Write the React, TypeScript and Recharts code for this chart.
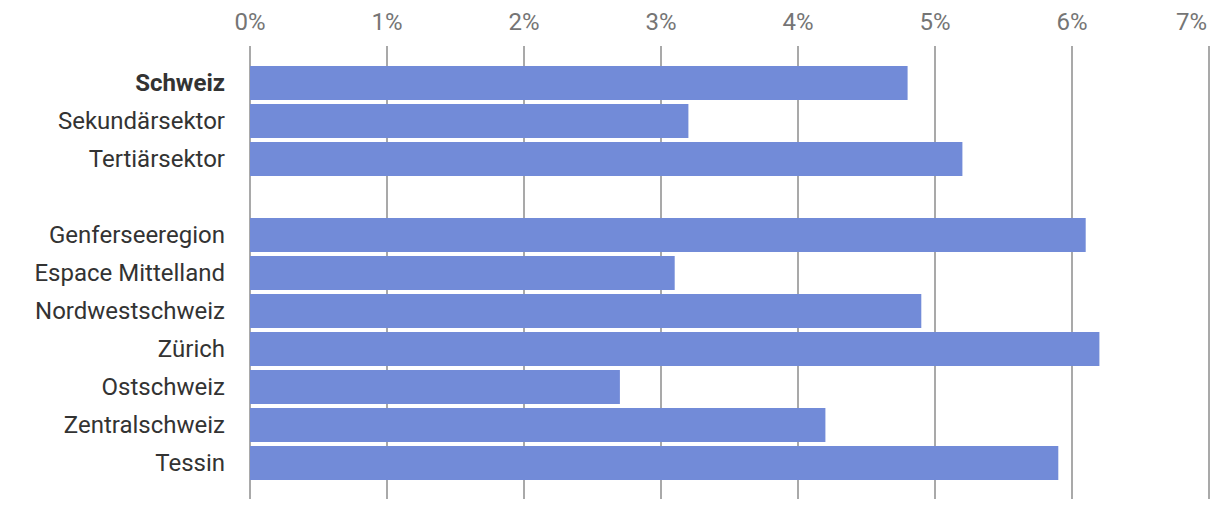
import React from 'react';
import { BarChart, Bar, XAxis, YAxis, CartesianGrid } from 'recharts';

const categories = [
  'Schweiz',
  'Sekundärsektor',
  'Tertiärsektor',
  '',
  'Genferseeregion',
  'Espace Mittelland',
  'Nordwestschweiz',
  'Zürich',
  'Ostschweiz',
  'Zentralschweiz',
  'Tessin',
];
const values: (number | null)[] = [4.8, 3.2, 5.2, null, 6.1, 3.1, 4.9, 6.2, 2.7, 4.2, 5.9];
const xTicks = [0, 1, 2, 3, 4, 5, 6, 7];

const data = categories.map((name, i) => ({ name, value: values[i] }));

const YTick = ({ x, y, payload }: any) => (
  <text
    x={x}
    y={y}
    dy={8}
    textAnchor="end"
    fill="#333333"
    fontSize={24}
    fontFamily="Roboto"
    fontWeight={payload.value === 'Schweiz' ? 700 : 400}
  >
    {payload.value}
  </text>
);

const XTick = ({ x, y, payload }: any) => {
  const last = payload.value === xTicks[xTicks.length - 1];
  return (
    <text
      x={last ? x - 2 : x}
      y={y}
      textAnchor={last ? 'end' : 'middle'}
      fill="#757575"
      fontSize={24}
      fontFamily="Roboto"
    >
      {`${payload.value}%`}
    </text>
  );
};

const App: React.FC = () => {
  return (
    <div style={{ position: 'absolute', left: 0, top: 0, background: '#fff' }}>
      <BarChart
        width={1220}
        height={510}
        data={data}
        layout="vertical"
        margin={{ top: 0, right: 11, left: 0, bottom: 11 }}
      >
        <CartesianGrid horizontal={false} stroke="#8c8c8c" strokeWidth={1.5} />
        <XAxis
          type="number"
          orientation="top"
          domain={[0, 7]}
          ticks={xTicks}
          axisLine={false}
          tickLine={false}
          tickSize={0}
          tickMargin={16}
          height={46}
          tick={<XTick />}
        />
        <YAxis
          type="category"
          dataKey="name"
          width={250}
          axisLine={false}
          tickLine={false}
          tickSize={0}
          tickMargin={25}
          padding={{ top: 18, bottom: 17 }}
          interval={0}
          tick={<YTick />}
        />
        <Bar dataKey="value" fill="#728bd8" barSize={34} isAnimationActive={false} />
      </BarChart>
    </div>
  );
};

export default App;
